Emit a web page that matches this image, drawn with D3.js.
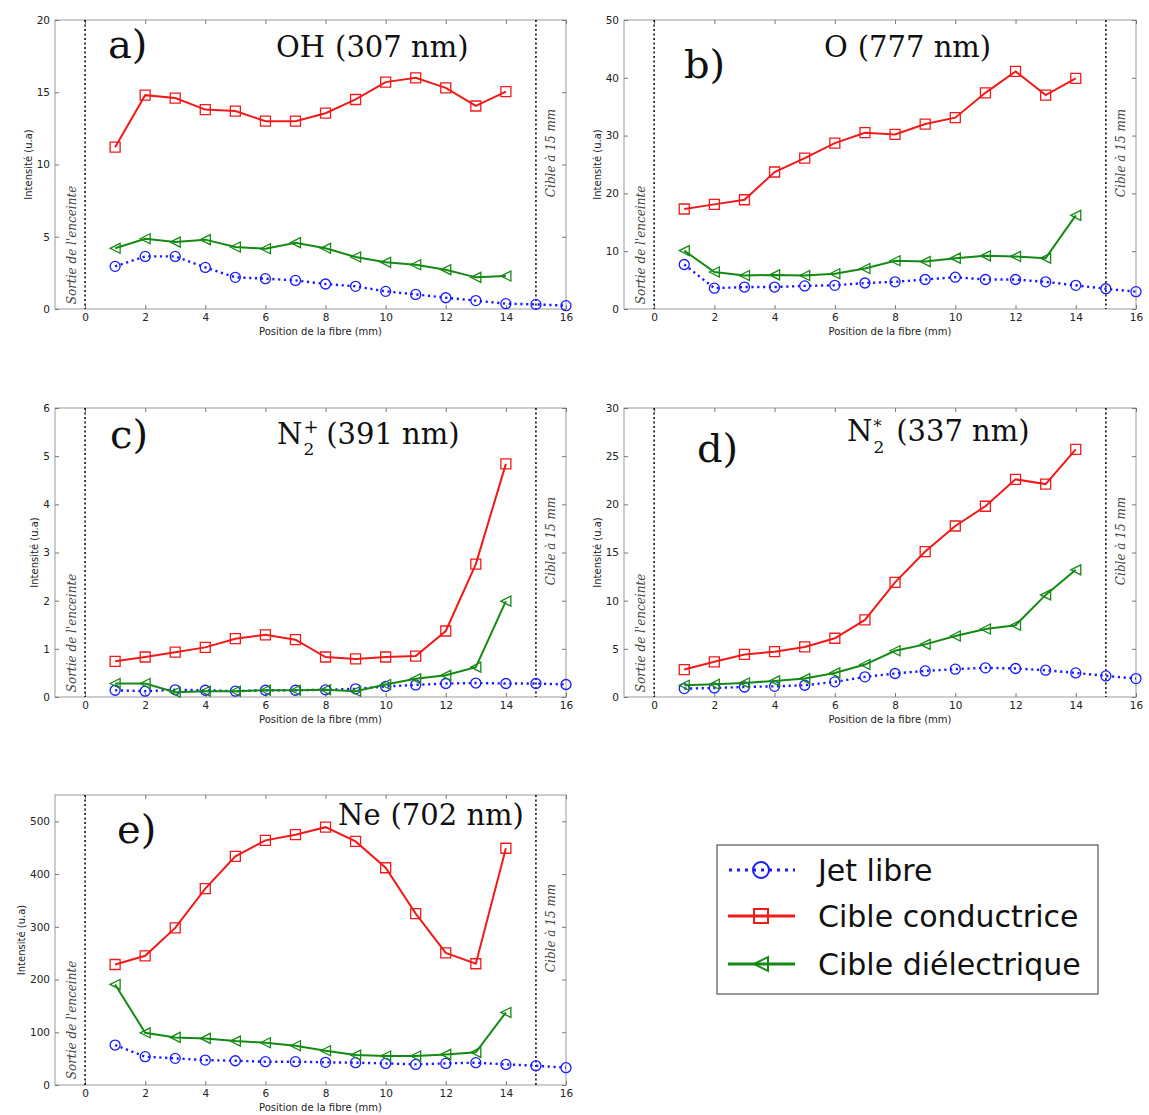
<!DOCTYPE html>
<html><head><meta charset="utf-8">
<script src="https://cdn.jsdelivr.net/npm/d3@7"></script>
<style>body{margin:0;background:#fff}svg{display:block}</style>
</head><body>
<svg id="chart" width="1149" height="1115"></svg>
<script>
// ---- data ----
const posJet = [1,2,3,4,5,6,7,8,9,10,11,12,13,14,15,16];
const posTarget = [1,2,3,4,5,6,7,8,9,10,11,12,13,14];
const xTicks = [0,2,4,6,8,10,12,14,16];
const seriesNames = ["Jet libre","Cible conductrice","Cible diélectrique"];

const ohJet  = [2.95,3.64,3.64,2.88,2.19,2.10,1.98,1.73,1.57,1.22,1.01,0.78,0.58,0.37,0.32,0.23];
const ohCond = [11.2,14.8,14.6,13.8,13.7,13.0,13.0,13.55,14.5,15.7,16.0,15.3,14.05,15.05];
const ohDiel = [4.2,4.86,4.63,4.8,4.29,4.17,4.59,4.2,3.6,3.23,3.06,2.72,2.19,2.28];
const ohTicks = [0,5,10,15,20];

const oJet  = [7.7,3.6,3.8,3.8,4.0,4.1,4.5,4.7,5.1,5.5,5.1,5.1,4.7,4.1,3.5,3.0];
const oCond = [17.3,18.1,18.9,23.7,26.1,28.7,30.5,30.2,32.0,33.1,37.4,41.1,37.0,39.9];
const oDiel = [10.1,6.4,5.8,5.9,5.8,6.1,7.0,8.35,8.2,8.8,9.2,9.1,8.8,16.2];
const oTicks = [0,10,20,30,40,50];

const n2pJet  = [0.14,0.12,0.15,0.14,0.12,0.14,0.14,0.15,0.17,0.22,0.25,0.28,0.29,0.28,0.28,0.26];
const n2pCond = [0.74,0.83,0.93,1.03,1.21,1.29,1.19,0.83,0.79,0.83,0.85,1.37,2.76,4.84];
const n2pDiel = [0.28,0.28,0.10,0.12,0.12,0.14,0.14,0.15,0.12,0.26,0.38,0.45,0.62,1.99];
const n2pTicks = [0,1,2,3,4,5,6];

const n2sJet  = [0.87,0.94,1.04,1.11,1.22,1.57,2.09,2.44,2.71,2.89,3.03,2.96,2.78,2.5,2.19,1.91];
const n2sCond = [2.85,3.65,4.42,4.7,5.2,6.1,8.0,11.9,15.1,17.75,19.8,22.6,22.1,25.7];
const n2sDiel = [1.22,1.32,1.46,1.67,1.91,2.5,3.37,4.8,5.46,6.33,7.06,7.45,10.6,13.2];
const n2sTicks = [0,5,10,15,20,25,30];

const neJet  = [75.8,53.7,50.5,47.3,46,44.2,44.2,43,42.3,41,39.1,41,42.3,39.1,36.6,32.8];
const neCond = [228.5,245,298,372.5,433.7,464,474.7,489,462,412,325,250.6,230,449];
const neDiel = [190.7,99,90.3,88.4,83.3,80.2,74.5,65,56.8,55,55,58,61.9,137.6];
const neTicks = [0,100,200,300,400,500];

// ---- styling / layout ----
const BLUE = "#1a1aff", RED = "#f01a1a", GREEN = "#148a14";
const svg = d3.select("#chart");

const panels = [
  {tag:"a)", sp:"OH", sup:null, sub:null, wl:"(307 nm)", jet:ohJet, cond:ohCond, diel:ohDiel, ticks:ohTicks, ymax:20,
   box:{L:55,T:20,R:566,B:309}, tagPos:[108,58], titlePos:[276,57]},
  {tag:"b)", sp:"O", sup:null, sub:null, wl:"(777 nm)", jet:oJet, cond:oCond, diel:oDiel, ticks:oTicks, ymax:50,
   box:{L:624,T:20,R:1136,B:309}, tagPos:[684,78], titlePos:[824,57]},
  {tag:"c)", sp:"N", sup:"+", sub:"2", wl:"(391 nm)", jet:n2pJet, cond:n2pCond, diel:n2pDiel, ticks:n2pTicks, ymax:6,
   box:{L:55,T:408,R:566,B:697}, tagPos:[110,448], titlePos:[277,444]},
  {tag:"d)", sp:"N", sup:"*", sub:"2", wl:"(337 nm)", jet:n2sJet, cond:n2sCond, diel:n2sDiel, ticks:n2sTicks, ymax:30,
   box:{L:624,T:408,R:1136,B:697}, tagPos:[697,462], titlePos:[847,441]},
  {tag:"e)", sp:"Ne", sup:null, sub:null, wl:"(702 nm)", jet:neJet, cond:neCond, diel:neDiel, ticks:neTicks, ymax:550,
   box:{L:55,T:795,R:566,B:1085}, tagPos:[117,843], titlePos:[338,825]}
];

function squarePath(s){ return `M${-s/2},${-s/2}h${s}v${s}h${-s}Z`; }
function triLeftPath(s){ const h=s*0.5; return `M${-h},0L${h},${-h}L${h},${h}Z`; }

panels.forEach(p => {
  const {L,T,R,B} = p.box;
  const x = d3.scaleLinear().domain([-1,16]).range([L,R]);
  const y = d3.scaleLinear().domain([0,p.ymax]).range([B,T]);
  const g = svg.append("g");

  // frame
  g.append("rect").attr("x",L).attr("y",T).attr("width",R-L).attr("height",B-T)
    .attr("fill","none").attr("stroke","#9a9a9a").attr("stroke-width",1);

  // axes
  const fmt = d3.format("d");
  const ax = g.append("g").attr("transform",`translate(0,${B})`)
    .call(d3.axisBottom(x).tickValues(xTicks).tickFormat(fmt).tickSizeInner(-4).tickSizeOuter(0).tickPadding(5));
  const ay = g.append("g").attr("transform",`translate(${L},0)`)
    .call(d3.axisLeft(y).tickValues(p.ticks).tickFormat(fmt).tickSizeInner(-4).tickSizeOuter(0).tickPadding(5));
  g.append("g").attr("transform",`translate(0,${T})`)
    .call(d3.axisTop(x).tickValues(xTicks).tickFormat("").tickSizeInner(-4).tickSizeOuter(0));
  g.append("g").attr("transform",`translate(${R},0)`)
    .call(d3.axisRight(y).tickValues(p.ticks).tickFormat("").tickSizeInner(-4).tickSizeOuter(0));
  g.selectAll(".domain").remove();
  g.selectAll(".tick line").attr("stroke","#777");
  g.selectAll(".tick text").attr("font-family","DejaVu Sans").attr("font-size",10.5).attr("fill","#222");

  // axis labels
  const yb = ay.node().getBBox();
  g.append("text").attr("transform",`translate(${L+yb.x-5},${(T+B)/2}) rotate(-90)`)
    .attr("text-anchor","middle").attr("font-family","DejaVu Sans").attr("font-size",10).attr("fill","#222")
    .text("Intensité (u.a)");
  g.append("text").attr("x",(L+R)/2+10).attr("y",B+26).attr("text-anchor","middle")
    .attr("font-family","DejaVu Sans").attr("font-size",10).attr("fill","#222")
    .text("Position de la fibre (mm)");

  // vertical dotted lines at 0 and 15
  [0,15].forEach(v => g.append("line").attr("x1",x(v)).attr("x2",x(v)).attr("y1",T).attr("y2",B)
    .attr("stroke","#111").attr("stroke-width",1.6).attr("stroke-dasharray","2,2.5"));
  g.append("text").attr("transform",`translate(${x(0)-9},${T+225}) rotate(-90)`)
    .attr("text-anchor","middle").attr("font-family","DejaVu Serif").attr("font-style","italic")
    .attr("font-size",12).attr("fill","#444").text("Sortie de l'enceinte");
  g.append("text").attr("transform",`translate(${x(15)+19},${T+133}) rotate(-90)`)
    .attr("text-anchor","middle").attr("font-family","DejaVu Serif").attr("font-style","italic")
    .attr("font-size",12).attr("fill","#444").text("Cible à 15 mm");

  // series
  const jetData = posJet.map((v,i)=>[v,p.jet[i]]);
  const condData = posTarget.map((v,i)=>[v,p.cond[i]]);
  const dielData = posTarget.map((v,i)=>[v,p.diel[i]]);
  const line = d3.line().x(d=>x(d[0])).y(d=>y(d[1]));

  g.append("path").datum(jetData).attr("d",line).attr("fill","none").attr("stroke",BLUE)
    .attr("stroke-width",2.4).attr("stroke-dasharray","2.2,3.6");
  g.selectAll(null).data(jetData).enter().append("circle")
    .attr("cx",d=>x(d[0])).attr("cy",d=>y(d[1])).attr("r",5)
    .attr("fill","none").attr("stroke",BLUE).attr("stroke-width",1.3);

  g.append("path").datum(dielData).attr("d",line).attr("fill","none").attr("stroke",GREEN).attr("stroke-width",2);
  g.selectAll(null).data(dielData).enter().append("path")
    .attr("transform",d=>`translate(${x(d[0])},${y(d[1])})`).attr("d",triLeftPath(10))
    .attr("fill","none").attr("stroke",GREEN).attr("stroke-width",1.3);

  g.append("path").datum(condData).attr("d",line).attr("fill","none").attr("stroke",RED).attr("stroke-width",2);
  g.selectAll(null).data(condData).enter().append("path")
    .attr("transform",d=>`translate(${x(d[0])},${y(d[1])})`).attr("d",squarePath(10))
    .attr("fill","none").attr("stroke",RED).attr("stroke-width",1.3);

  // panel tag and title
  g.append("text").attr("x",p.tagPos[0]).attr("y",p.tagPos[1]).attr("font-family","DejaVu Serif")
    .attr("font-size",40).attr("fill","#111").text(p.tag);
  const tx = p.titlePos[0], ty = p.titlePos[1];
  const tt = g.append("text").attr("x",tx).attr("y",ty).attr("font-family","DejaVu Serif")
    .attr("font-size",29).attr("fill","#111").text(p.sp);
  let cx = tx + tt.node().getComputedTextLength();
  if (p.sub) {
    const s1 = g.append("text").attr("x",cx+1).attr("y",ty+(p.sup==="*"?12:11)).attr("font-family","DejaVu Serif")
      .attr("font-size",17).attr("fill","#111").text(p.sub);
    g.append("text").attr("x",cx+1).attr("y",ty-(p.sup==="*"?9:11)).attr("font-family","DejaVu Serif")
      .attr("font-size",p.sup==="*"?16:18).attr("fill","#111").text(p.sup);
    cx += s1.node().getComputedTextLength() + 3;
  }
  g.append("text").attr("x",cx+10).attr("y",ty).attr("font-family","DejaVu Serif")
    .attr("font-size",29).attr("fill","#111").text(p.wl);
});

// ---- legend ----
const lg = svg.append("g");
lg.append("rect").attr("x",717).attr("y",845).attr("width",381).attr("height",149)
  .attr("fill","#fff").attr("stroke","#555").attr("stroke-width",1.2);
const legY = [870,916,964];
const legColors = [BLUE,RED,GREEN];
seriesNames.forEach((name,i) => {
  const yy = legY[i];
  const ln = lg.append("line").attr("x1",728).attr("x2",795).attr("y1",yy).attr("y2",yy)
    .attr("stroke",legColors[i]).attr("stroke-width",3);
  if (i===0) ln.attr("stroke-dasharray","3,5").attr("x1",729);
  if (i===0) lg.append("circle").attr("cx",761).attr("cy",yy).attr("r",8).attr("fill","none").attr("stroke",BLUE).attr("stroke-width",2);
  if (i===1) lg.append("path").attr("transform",`translate(761,${yy})`).attr("d",squarePath(14)).attr("fill","none").attr("stroke",RED).attr("stroke-width",2);
  if (i===2) lg.append("path").attr("transform",`translate(761,${yy})`).attr("d",triLeftPath(14)).attr("fill","none").attr("stroke",GREEN).attr("stroke-width",2);
  lg.append("text").attr("x",818).attr("y",yy+11).attr("font-family","DejaVu Sans").attr("font-size",30)
    .attr("fill","#111").text(name);
});
</script>
</body></html>
